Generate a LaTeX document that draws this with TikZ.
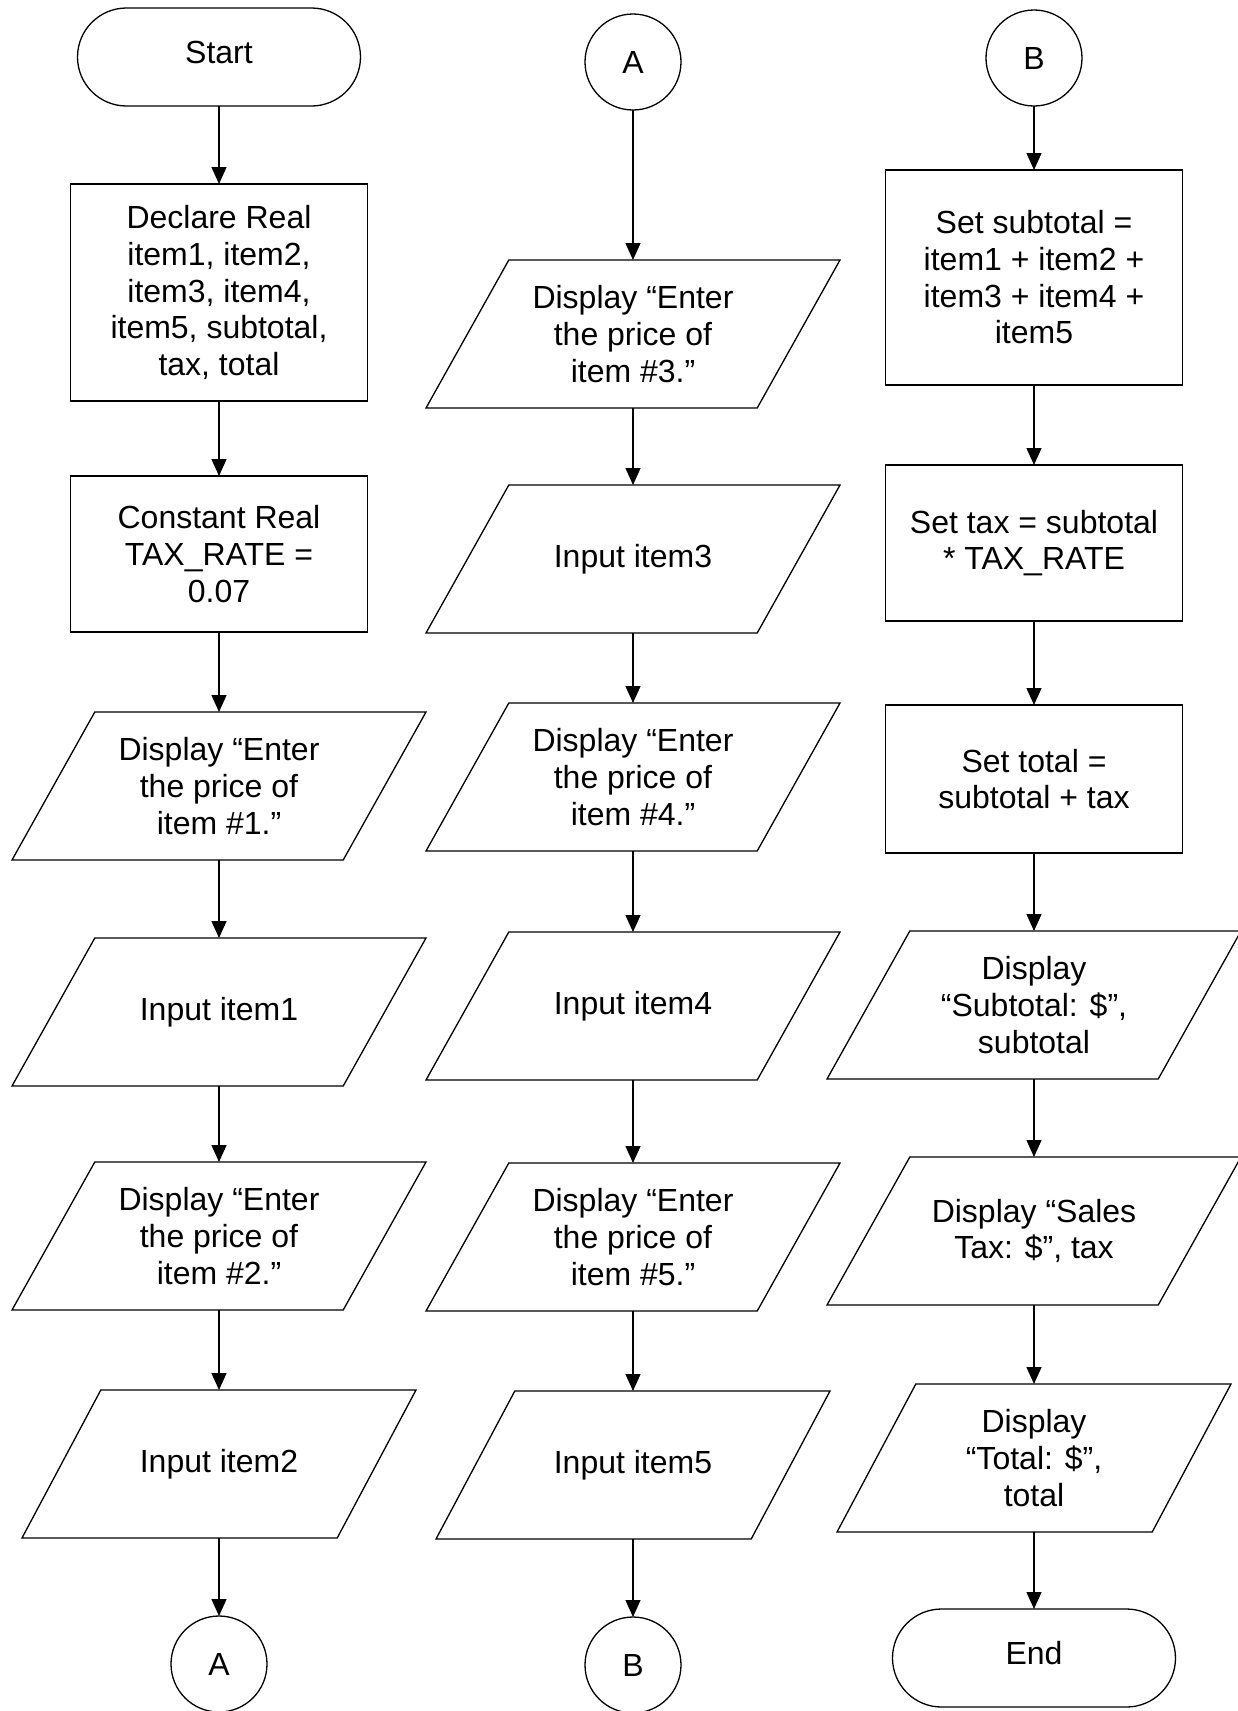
\documentclass[tikz,border=0pt]{standalone}
\usepackage{fontspec}
\setmainfont{Liberation Sans}
\usetikzlibrary{positioning,shapes.misc,arrows.meta}

\begin{document}
\begin{tikzpicture}[
		x=1pt, y=1pt,
		node distance=78pt,
		line width=1.3pt,
		every node/.style={font=\fontsize{32}{36.7}\selectfont, align=center, inner sep=2pt, outer sep=0pt},
		ar/.style={-{Triangle[length=17pt,width=15pt]}},
		term/.style={draw, rounded rectangle, minimum width=287pt, minimum height=98pt, text depth=10pt},
		proc/.style={draw, rectangle, minimum width=297pt},
		io/.style={rectangle, minimum width=#1, minimum height=148pt,
			append after command={\pgfextra{\draw ([xshift=0.2*#1]\tikzlastnode.north west) -- (\tikzlastnode.north east) -- ([xshift=-0.2*#1]\tikzlastnode.south east) -- (\tikzlastnode.south west) -- cycle;}}},
		io/.default=414pt,
		conn/.style={draw, circle, minimum size=96pt}
	]
		\useasboundingbox (0,0) rectangle (1238,-1711);

		\node[term] (start) at (219,-57) {Start};
		\node[proc, minimum height=217pt, below=78pt of start] (decl) {Declare Real\\item1, item2,\\item3, item4,\\item5, subtotal,\\tax, total};
		\node[proc, minimum height=156pt, below=75pt of decl] (const) {Constant Real\\TAX\_RATE =\\0.07};
		\node[io, below=80pt of const] (disp1) {Display “Enter\\the price of\\item \#1.”};
		\node[io, below=of disp1] (in1) {Input item1};
		\node[io, below=76pt of in1] (disp2) {Display “Enter\\the price of\\item \#2.”};
		\node[io=394pt, below=80pt of disp2] (in2) {Input item2};
		\node[conn, below=of in2] (outA) {A};

		\node[conn] (inA) at (633,-62) {A};
		\node[io, below=150pt of inA] (disp3) {Display “Enter\\the price of\\item \#3.”};
		\node[io, below=77pt of disp3] (in3) {Input item3};
		\node[io, below=70pt of in3] (disp4) {Display “Enter\\the price of\\item \#4.”};
		\node[io, below=81pt of disp4] (in4) {Input item4};
		\node[io, below=83pt of in4] (disp5) {Display “Enter\\the price of\\item \#5.”};
		\node[io=394pt, below=80pt of disp5] (in5) {Input item5};
		\node[conn, below=78pt of in5] (outB) {B};

		\node[conn] (inB) at (1034,-58) {B};
		\node[proc, minimum height=215pt, below=64pt of inB] (sub) {Set subtotal =\\item1 + item2 +\\item3 + item4 +\\item5};
		\node[proc, minimum height=156pt, below=80pt of sub] (tax) {Set tax = subtotal\\* TAX\_RATE};
		\node[proc, minimum height=148pt, below=84pt of tax] (total) {Set total =\\subtotal + tax};
		\node[io, below=78pt of total] (dsub) {Display\\“Subtotal: \$”,\\subtotal};
		\node[io, below=78pt of dsub] (dtax) {Display “Sales\\Tax: \$”, tax};
		\node[io=394pt, below=79pt of dtax] (dtot) {Display\\“Total: \$”,\\total};
		\node[term, below=77pt of dtot] (stop) {End};

		\draw[ar] (start.south) -- (decl.north);
		\draw[ar] (decl.south) -- (const.north);
		\draw[ar] (const.south) -- (disp1.north);
		\draw[ar] (disp1.south) -- (in1.north);
		\draw[ar] (in1.south) -- (disp2.north);
		\draw[ar] (disp2.south) -- (in2.north);
		\draw[ar] (in2.south) -- (outA.north);

		\draw[ar] (inA.south) -- (disp3.north);
		\draw[ar] (disp3.south) -- (in3.north);
		\draw[ar] (in3.south) -- (disp4.north);
		\draw[ar] (disp4.south) -- (in4.north);
		\draw[ar] (in4.south) -- (disp5.north);
		\draw[ar] (disp5.south) -- (in5.north);
		\draw[ar] (in5.south) -- (outB.north);

		\draw[ar] (inB.south) -- (sub.north);
		\draw[ar] (sub.south) -- (tax.north);
		\draw[ar] (tax.south) -- (total.north);
		\draw[ar] (total.south) -- (dsub.north);
		\draw[ar] (dsub.south) -- (dtax.north);
		\draw[ar] (dtax.south) -- (dtot.north);
		\draw[ar] (dtot.south) -- (stop.north);
	\end{tikzpicture}
\end{document}
